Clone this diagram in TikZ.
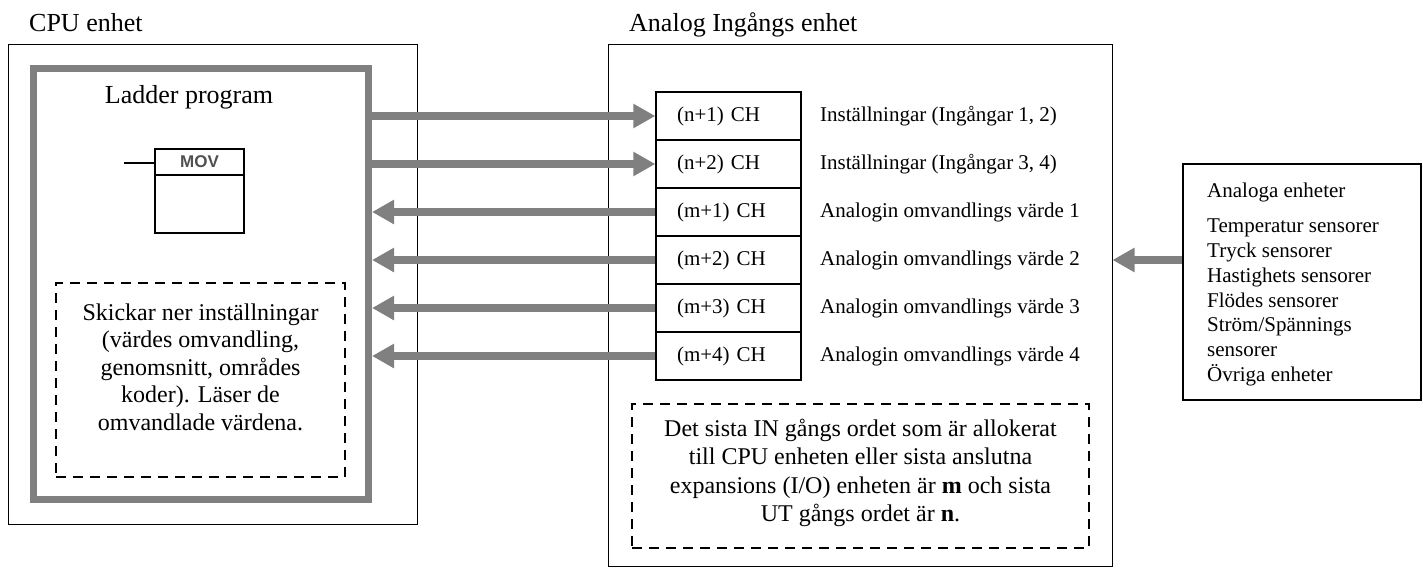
\documentclass[tikz,border=0pt]{standalone}
\usepackage{fontspec}
\setmainfont{Liberation Serif}
\setsansfont{Liberation Sans}
\usetikzlibrary{arrows.meta}
\definecolor{arrgray}{RGB}{128,128,128}
\definecolor{movgray}{RGB}{80,80,80}
\newcommand\ttlfont{\fontsize{26}{30}\selectfont}
\newcommand\lblfont{\fontsize{21}{24.7}\selectfont}
\newcommand\dshfont{\fontsize{24}{27.5}\selectfont}
\newcommand\dshfontb{\fontsize{24}{28.5}\selectfont}
\newcommand\movfont{\fontsize{17}{20}\selectfont\sffamily\bfseries}
\tikzset{
  unitbox/.style={draw=black, line width=1pt, inner sep=0pt},
  graybox/.style={draw=arrgray, line width=7pt, inner sep=0pt},
  dashbox/.style={draw=black, line width=2.5pt, dash pattern=on 10pt off 7pt, inner sep=0pt},
  ttl/.style={font=\ttlfont, inner sep=0pt},
  lbl/.style={font=\lblfont, inner sep=0pt},
  cell/.style={draw=black, line width=1.3pt, minimum height=48pt, text width=103pt,
    inner xsep=21pt, inner ysep=0pt, align=left, font=\lblfont},
  garrow/.style={draw=arrgray, line width=8pt, -{Triangle[length=22pt,width=23pt]}},
  thinline/.style={draw=black, line width=1.3pt},
}
\begin{document}
\begin{tikzpicture}[x=1pt,y=-1pt]
\useasboundingbox (0,0) rectangle (1423,568);

% CPU unit
\node[ttl, anchor=west] (cputitle) at (29,23) {CPU enhet};
\node[unitbox, minimum width=409pt, minimum height=480pt] (cpu) at (212.5,284) {};
\node[graybox, minimum width=335pt, minimum height=431pt] (ladder) at (201,284) {};
\node[ttl, anchor=base] (laddertext) at (189,103) {Ladder program};

% MOV block
\node[thinline, minimum width=89pt, minimum height=84pt, inner sep=0pt] (movbox) at (199.5,191) {};
\coordinate (movdivL) at (155,175);
\coordinate (movdivR) at (244,175);
\draw[thinline] (movdivL) -- (movdivR);
\coordinate (movin) at (124,163);
\draw[thinline] (movin) -- (movbox.west |- movin);
\node[font=\movfont, text=movgray, inner sep=0pt] (movtext) at (199.5,162) {MOV};

% CPU dashed note
\node[dashbox, minimum width=289pt, minimum height=194pt] (cpunote) at (200.5,380) {};
\node[font=\dshfont, align=center, inner sep=0pt] (cpunotetext) at (200.5,367)
  {Skickar ner inställningar\\(värdes omvandling,\\genomsnitt, områdes\\koder). Läser de\\omvandlade värdena.};

% Analog unit
\node[ttl, anchor=west] (atitle) at (629,25) {Analog Ingångs enhet};
\node[unitbox, minimum width=504pt, minimum height=522pt] (abox) at (860,305) {};

% Channel table
\node[cell] (c1) at (728.5,116) {(n+1) CH};
\node[cell] (c2) at (728.5,164) {(n+2) CH};
\node[cell] (c3) at (728.5,212) {(m+1) CH};
\node[cell] (c4) at (728.5,260) {(m+2) CH};
\node[cell] (c5) at (728.5,308) {(m+3) CH};
\node[cell] (c6) at (728.5,356) {(m+4) CH};

\node[lbl, anchor=west] (d1) at (820,116) {Inställningar (Ingångar 1, 2)};
\node[lbl, anchor=west] (d2) at (820,164) {Inställningar (Ingångar 3, 4)};
\node[lbl, anchor=west] (d3) at (820,212) {Analogin omvandlings värde 1};
\node[lbl, anchor=west] (d4) at (820,260) {Analogin omvandlings värde 2};
\node[lbl, anchor=west] (d5) at (820,308) {Analogin omvandlings värde 3};
\node[lbl, anchor=west] (d6) at (820,356) {Analogin omvandlings värde 4};

% Analog dashed note
\node[dashbox, minimum width=457pt, minimum height=144pt] (anote) at (860.5,476) {};
\node[font=\dshfontb, align=center, inner sep=0pt] (anotetext) at (860.5,473)
  {Det sista IN gångs ordet som är allokerat\\till CPU enheten eller sista anslutna\\expansions (I/O) enheten är \textbf{m} och sista\\UT gångs ordet är \textbf{n}.};

% Arrows
\draw[garrow] (ladder.east |- c1.west) -- (c1.west);
\draw[garrow] (ladder.east |- c2.west) -- (c2.west);
\draw[garrow] (c3.west) -- (ladder.east |- c3.west);
\draw[garrow] (c4.west) -- (ladder.east |- c4.west);
\draw[garrow] (c5.west) -- (ladder.east |- c5.west);
\draw[garrow] (c6.west) -- (ladder.east |- c6.west);

% Analog devices
\node[draw=black, line width=1.6pt, minimum width=238pt, minimum height=236pt, inner sep=0pt] (rbox) at (1302,282) {};
\node[font=\lblfont, align=left, anchor=north west, inner sep=0pt] (rtext) at (1207,182.5)
  {Analoga enheter\\[11pt]Temperatur sensorer\\Tryck sensorer\\Hastighets sensorer\\Flödes sensorer\\Ström/Spännings\\sensorer\\Övriga enheter};
\draw[garrow] (rbox.west |- c4.west) -- (abox.east |- c4.west);
\end{tikzpicture}
\end{document}
